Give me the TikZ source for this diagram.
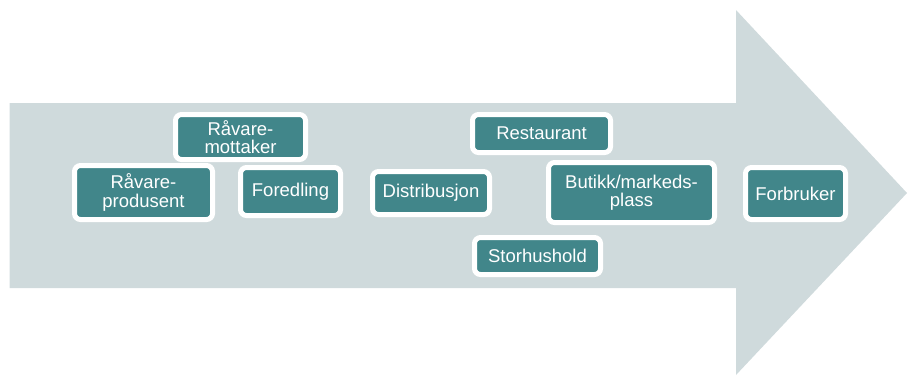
\documentclass[tikz,border=0pt]{standalone}
\usepackage{fontspec}
\setmainfont{Liberation Sans}
\definecolor{arrowfill}{HTML}{CFDADC}
\definecolor{boxteal}{HTML}{41868A}
\begin{document}
\begin{tikzpicture}[x=1pt,y=-1pt,
  stagebox/.style={draw=white, line width=5pt, fill=boxteal, rounded corners=6pt,
    text=white, font=\fontsize{18.5}{18.5}\selectfont, align=center, inner sep=0pt}]
\useasboundingbox (0,0) rectangle (908,376);
\fill[arrowfill] (9.5,103) -- (736,103) -- (736,10) -- (907,193) -- (736,375) -- (736,288) -- (9.5,288) -- cycle;
\node[stagebox, minimum width=130pt, minimum height=45pt] (mottaker) at (240.5,137) {Råvare-\\mottaker};
\node[stagebox, minimum width=138pt, minimum height=54pt] (produsent) at (143.5,192.5) {Råvare-\\produsent};
\node[stagebox, minimum width=100pt, minimum height=48pt] (foredling) at (290.5,191.5) {Foredling};
\node[stagebox, minimum width=138pt, minimum height=38pt] (restaurant) at (541.5,133.5) {Restaurant};
\node[stagebox, minimum width=117pt, minimum height=43pt] (distribusjon) at (431,193) {Distribusjon};
\node[stagebox, minimum width=166pt, minimum height=60pt] (butikk) at (631.5,192.5) {Butikk/markeds-\\plass};
\node[stagebox, minimum width=126pt, minimum height=37pt] (storhushold) at (537.5,256) {Storhushold};
\node[stagebox, minimum width=100pt, minimum height=52pt] (forbruker) at (795.5,193.5) {Forbruker};
\end{tikzpicture}
\end{document}
